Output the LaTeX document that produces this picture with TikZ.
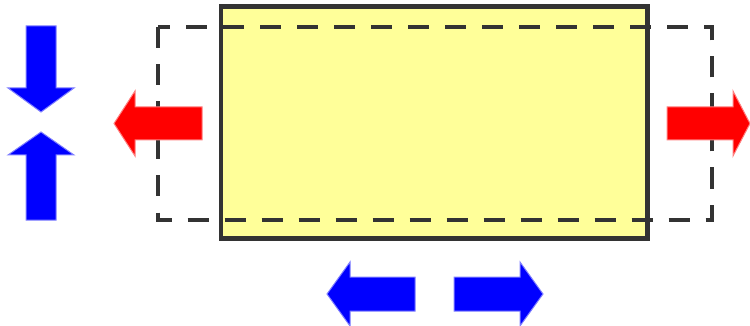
\documentclass[tikz,border=0pt]{standalone}
\usetikzlibrary{calc}
\definecolor{edge}{HTML}{333333}
\definecolor{pale}{HTML}{FFFF99}
\definecolor{bluearr}{HTML}{0000FF}
\definecolor{redarr}{HTML}{FF0000}
\tikzset{
  box/.style={draw=edge, fill=pale, line width=4.5pt},
  dashbox/.style={draw=edge, line width=4pt, dash pattern=on 21pt off 16pt},
  bluefill/.style={fill=bluearr, draw=bluearr!50, line width=1pt, line join=miter},
  redfill/.style={fill=redarr, draw=redarr!50, line width=1pt, line join=miter}
}
\begin{document}
\begin{tikzpicture}[x=1pt,y=-1pt]
\useasboundingbox (0,0) rectangle (750,326);
% main box
\path[box] (221,6.5) rectangle (647.5,238.5);
% dashed box
\draw[dashbox] (157.5,27.5) rectangle (711.5,219.5);
% blue vertical arrows
\path[bluefill] (26,26) -- (56,26) -- (56,88) -- (74,88) -- (41,112) -- (8,88) -- (26,88) -- cycle;
\path[bluefill] (26,220) -- (56,220) -- (56,155) -- (74,155) -- (41,132) -- (8,155) -- (26,155) -- cycle;
% red arrows
\path[redfill] (202,107) -- (202,140) -- (135,140) -- (135,156) -- (114,123.5) -- (135,91) -- (135,107) -- cycle;
\path[redfill] (667,107) -- (733,107) -- (733,91) -- (750,123.5) -- (733,156) -- (733,140) -- (667,140) -- cycle;
% blue horizontal arrows
\path[bluefill] (415,277) -- (415,311) -- (350,311) -- (350,326) -- (327,294) -- (350,262) -- (350,277) -- cycle;
\path[bluefill] (454,277) -- (520,277) -- (520,262) -- (543,294) -- (520,326) -- (520,311) -- (454,311) -- cycle;
\end{tikzpicture}
\end{document}
